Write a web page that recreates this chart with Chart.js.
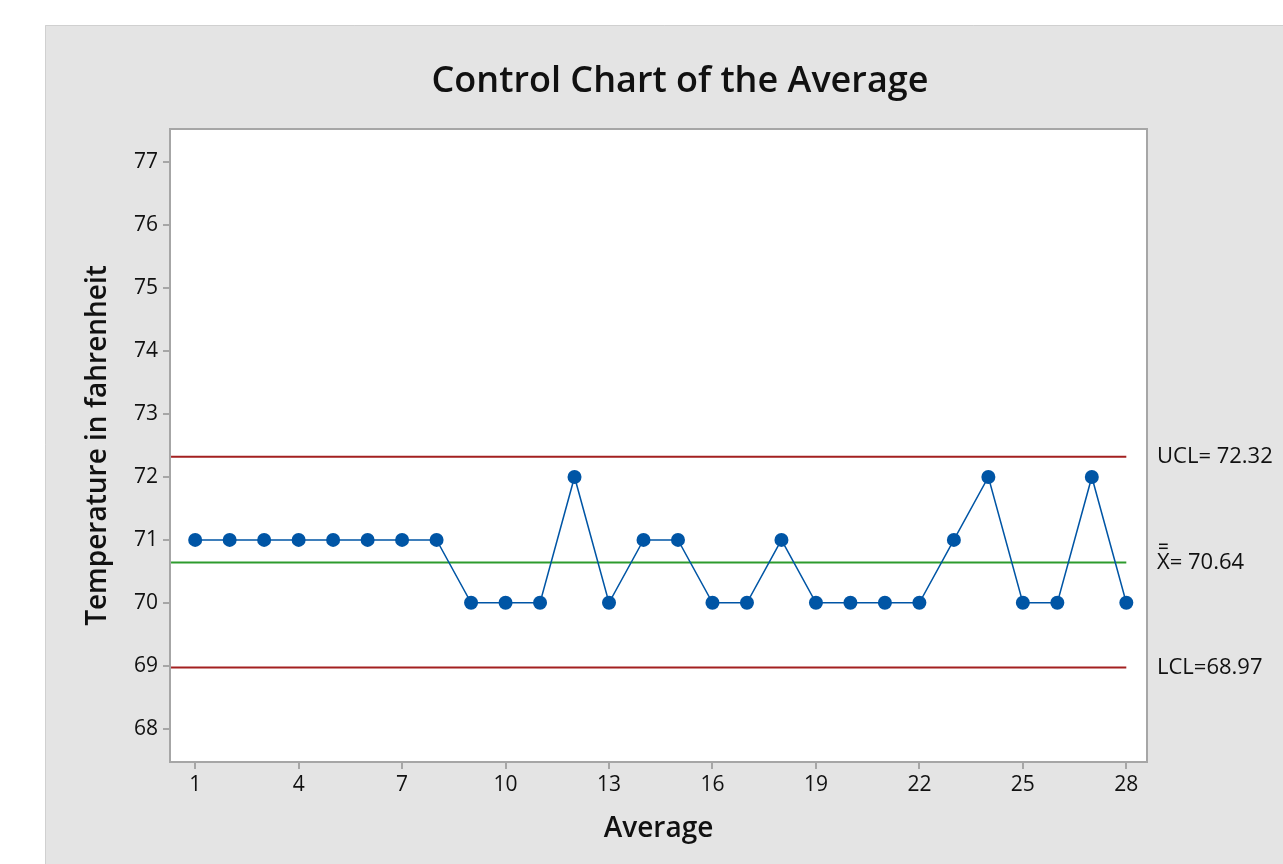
<!DOCTYPE html>
<html>
<head>
<meta charset="utf-8">
<script src="https://cdn.jsdelivr.net/npm/chart.js@4.4.1/dist/chart.umd.min.js"></script>
<style>
  html, body { margin: 0; padding: 0; background: #fff; }
  #wrap { width: 1283px; height: 864px; }
</style>
</head>
<body>
<div id="wrap"><canvas id="ctrlChart" width="1283" height="864"></canvas></div>
<script>
// subgroup numbers and averages
const samples = [1, 2, 3, 4, 5, 6, 7, 8, 9, 10, 11, 12, 13, 14, 15, 16, 17, 18, 19, 20, 21, 22, 23, 24, 25, 26, 27, 28];
const averages = [71, 71, 71, 71, 71, 71, 71, 71, 70, 70, 70, 72, 70, 71, 71, 70, 70, 71, 70, 70, 70, 70, 71, 72, 70, 70, 72, 70];

// control limits
const limitNames = ["UCL=72.32", "X=70.64", "LCL=68.97"];
const limitValues = [72.32, 70.64, 68.97];

const xTicks = [1, 4, 7, 10, 13, 16, 19, 22, 25, 28];
const yTicks = [68, 69, 70, 71, 72, 73, 74, 75, 76, 77];

const FONT = "'Open Sans', 'Noto Sans', sans-serif";
const TEXT = "#111111";
const AXIS = "#a6a6a6";

// gray panel, plot frame, title and limit labels
const minitabLook = {
  id: "minitabLook",
  beforeDraw(chart) {
    const { ctx, chartArea: a } = chart;
    ctx.save();
    ctx.fillStyle = "#ffffff";
    ctx.fillRect(0, 0, chart.width, chart.height);
    ctx.fillStyle = "#e4e4e4";
    ctx.fillRect(45, 25, chart.width - 45, chart.height - 25);
    ctx.strokeStyle = "#d0d0d0";
    ctx.lineWidth = 1;
    ctx.beginPath();
    ctx.moveTo(45.5, chart.height);
    ctx.lineTo(45.5, 25.5);
    ctx.lineTo(chart.width, 25.5);
    ctx.stroke();
    ctx.fillStyle = "#ffffff";
    ctx.fillRect(a.left, a.top, a.right - a.left, a.bottom - a.top);
    ctx.restore();
  },
  afterDraw(chart) {
    const { ctx, chartArea: a, scales } = chart;
    ctx.save();
    ctx.strokeStyle = AXIS;
    ctx.lineWidth = 2;
    ctx.strokeRect(a.left, a.top, a.right - a.left, a.bottom - a.top);

    ctx.fillStyle = TEXT;
    ctx.font = "600 36px " + FONT;
    ctx.textAlign = "center";
    ctx.textBaseline = "middle";
    ctx.fillText("Control Chart of the Average", 680, 82);

    ctx.font = "22px " + FONT;
    ctx.textAlign = "left";
    limitValues.forEach((v, i) => {
      const y = scales.y.getPixelForValue(v);
      const x = a.right + 10;
      if (limitNames[i].startsWith("X")) {
        ctx.fillText("X", x, y);
        const w = ctx.measureText("X").width;
        // double bar over X
        ctx.fillRect(x + 2, y - 19, w - 4, 1.5);
        ctx.fillRect(x + 2, y - 15, w - 4, 1.5);
        ctx.fillText("= 70.64", x + w, y);
      } else {
        ctx.fillText(limitNames[i].replace("UCL=", "UCL= "), x, y);
      }
    });
    ctx.restore();
  }
};

function limitLine(value, color) {
  return {
    type: "line",
    data: [{ x: samples[0] - 0.7, y: value }, { x: samples[samples.length - 1], y: value }],
    borderColor: color,
    borderWidth: 2,
    pointRadius: 0,
    pointHoverRadius: 0,
    order: 2
  };
}

new Chart(document.getElementById("ctrlChart").getContext("2d"), {
  type: "line",
  data: {
    datasets: [
      {
        data: samples.map((s, i) => ({ x: s, y: averages[i] })),
        borderColor: "#0055a5",
        backgroundColor: "#0055a5",
        borderWidth: 1.5,
        pointRadius: 7,
        pointBorderWidth: 0,
        tension: 0,
        order: 1
      },
      limitLine(limitValues[0], "#a32020"),
      limitLine(limitValues[1], "#2e9b2e"),
      limitLine(limitValues[2], "#a32020")
    ]
  },
  plugins: [minitabLook],
  options: {
    responsive: false,
    animation: false,
    devicePixelRatio: 1,
    layout: { padding: { top: 129, right: 136, left: 0, bottom: 0 } },
    plugins: { legend: { display: false }, tooltip: { enabled: false }, title: { display: false } },
    scales: {
      x: {
        type: "linear",
        min: 0.27,
        max: 28.6,
        afterBuildTicks: (scale) => { scale.ticks = xTicks.map(v => ({ value: v })); },
        afterFit: (scale) => { scale.height = 102; },
        grid: { drawOnChartArea: false, drawTicks: true, tickLength: 7, color: AXIS, lineWidth: 2 },
        border: { display: false },
        ticks: { color: TEXT, font: { family: FONT, size: 21 }, padding: 3, maxRotation: 0, autoSkip: false },
        title: { display: true, text: "Average", color: TEXT, font: { family: FONT, size: 28, weight: "600" }, padding: { top: 0, bottom: 18 } }
      },
      y: {
        min: 67.47,
        max: 77.53,
        afterBuildTicks: (scale) => { scale.ticks = yTicks.map(v => ({ value: v })); },
        afterFit: (scale) => { scale.width = 170; },
        grid: { drawOnChartArea: false, drawTicks: true, tickLength: 7, color: AXIS, lineWidth: 2 },
        border: { display: false },
        ticks: { color: TEXT, font: { family: FONT, size: 21 }, padding: 5, autoSkip: false },
        title: { display: true, text: "Temperature in fahrenheit", color: TEXT, font: { family: FONT, size: 28, weight: "600" }, padding: { top: 81, bottom: 0 } }
      }
    }
  }
});
</script>
</body>
</html>
